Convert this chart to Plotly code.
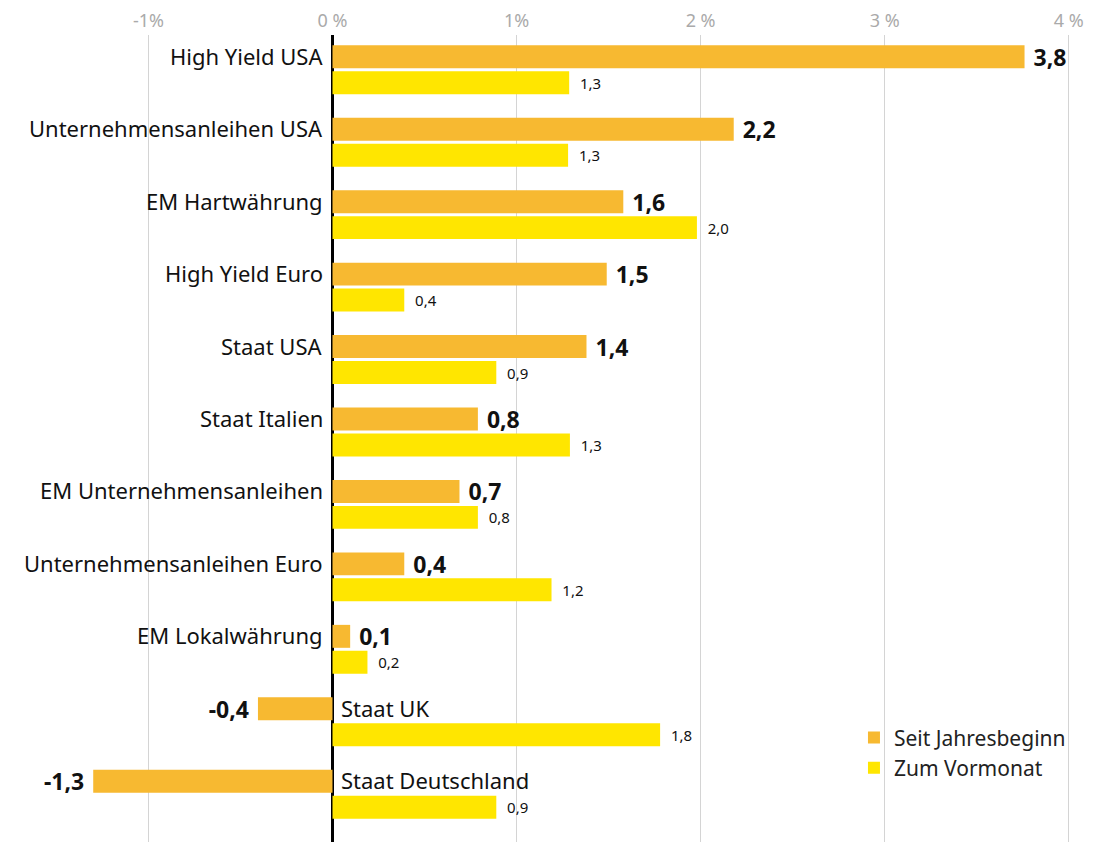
import plotly.graph_objects as go

categories = ["High Yield USA", "Unternehmensanleihen USA", "EM Hartwährung", "High Yield Euro",
              "Staat USA", "Staat Italien", "EM Unternehmensanleihen", "Unternehmensanleihen Euro",
              "EM Lokalwährung", "Staat UK", "Staat Deutschland"]
seit_jahresbeginn = [3.76, 2.18, 1.58, 1.49, 1.38, 0.79, 0.69, 0.39, 0.096, -0.405, -1.30]
zum_vormonat = [1.286, 1.28, 1.98, 0.39, 0.89, 1.29, 0.79, 1.19, 0.19, 1.78, 0.89]
tick_vals = [-1, 0, 1, 2, 3, 4]
tick_text = ["-1%", "0 %", "1%", "2 %", "3 %", "4 %"]
series_names = ["Seit Jahresbeginn", "Zum Vormonat"]

ORANGE = "#F7B931"
YELLOW = "#FFE600"
FONT = "Noto Sans"
NB = "\u00a0"

def fmt(v, pad):
    s = f"{round(v, 1):.1f}".replace(".", ",")
    return s + pad if v < 0 else pad + s

fig = go.Figure()
fig.add_trace(go.Bar(
    y=categories, x=seit_jahresbeginn, orientation="h", name=series_names[0],
    marker=dict(color=ORANGE, line=dict(width=0)),
    text=[fmt(v, NB) for v in seit_jahresbeginn], textposition="outside",
    textfont=dict(family=FONT, size=23, color="#111111", weight="bold"),
    constraintext="none", cliponaxis=False, hoverinfo="skip",
))
fig.add_trace(go.Bar(
    y=categories, x=zum_vormonat, orientation="h", name=series_names[1],
    marker=dict(color=YELLOW, line=dict(width=0)),
    text=[fmt(v, NB + NB) for v in zum_vormonat], textposition="outside",
    textfont=dict(family=FONT, size=15, color="#111111"),
    constraintext="none", cliponaxis=False, hoverinfo="skip",
))

for cat, v in zip(categories, seit_jahresbeginn):
    pos = v >= 0
    fig.add_annotation(
        x=0, y=cat, xref="x", yref="y", text=cat, showarrow=False,
        xanchor="right" if pos else "left", xshift=-7 if pos else 7, yshift=14,
        font=dict(family=FONT, size=22, color="#111111"),
    )

fig.update_layout(
    width=1092, height=834,
    margin=dict(l=0, r=0, t=25, b=0),
    paper_bgcolor="white", plot_bgcolor="white",
    barmode="group", bargap=0.284, bargroupgap=0.115,
    font=dict(family=FONT, color="#111111"),
    xaxis=dict(
        side="top", range=[-1.763, 4.170], tickvals=tick_vals, ticktext=tick_text,
        tickfont=dict(family=FONT, size=18, color="#AAAAAA"),
        showgrid=True, gridcolor="#D4D4D4", gridwidth=1,
        zeroline=True, zerolinecolor="#000000", zerolinewidth=2.5,
        showline=False, ticks="", ticklabelstandoff=3,
    ),
    yaxis=dict(
        range=[10.66, -0.48], showticklabels=False, showgrid=False,
        zeroline=False, showline=False, ticks="",
    ),
    legend=dict(
        x=0.7747, y=0.1545, xanchor="left", yanchor="top",
        font=dict(family=FONT, size=21, color="#222222"),
        bgcolor="rgba(0,0,0,0)", tracegroupgap=0, itemwidth=30,
    ),
    showlegend=True,
)

fig.write_html("out.html")
